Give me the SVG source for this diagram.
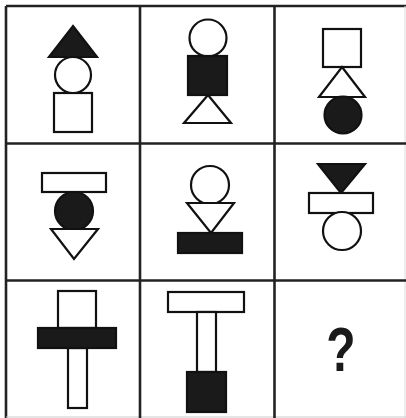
<svg xmlns="http://www.w3.org/2000/svg" width="406" height="418" viewBox="0 0 406 418">
<style>
.o{fill:#fff;stroke:#111;stroke-width:2.2}
.f{fill:#1a1a1a;stroke:#111;stroke-width:2.2}
.g{stroke:#222;stroke-width:2.6;fill:none}
.q{font-family:"Liberation Sans",Arial,sans-serif;font-weight:bold;font-size:48px;fill:#1a1a1a}
</style>
<rect width="406" height="418" fill="#fff"/>
<g id="grid">
<line class="g" x1="6" y1="6" x2="406" y2="6"/>
<line class="g" x1="6" y1="6" x2="6" y2="418"/>
<line x1="405" y1="6" x2="405" y2="418" stroke="#ddd" stroke-width="1"/>
<line x1="6" y1="417" x2="406" y2="417" stroke="#ccc" stroke-width="1"/>
<line class="g" x1="140" y1="6" x2="140" y2="418"/>
<line class="g" x1="274.5" y1="6" x2="274.5" y2="418"/>
<line class="g" x1="6" y1="143.5" x2="406" y2="143.5"/>
<line class="g" x1="6" y1="280.5" x2="406" y2="280.5"/>
</g>
<g id="cell1">
<rect class="o" x="54" y="93" width="38" height="39"/>
<circle class="o" cx="73" cy="75" r="18"/>
<polygon class="f" points="73,26 97,57 49,57"/>
</g>
<g id="cell2">
<circle class="o" cx="208" cy="38" r="18.5"/>
<polygon class="o" points="208,95 231,123 184,123"/>
<rect class="f" x="188" y="56" width="39" height="39"/>
</g>
<g id="cell3">
<rect class="o" x="323" y="29" width="38" height="38"/>
<polygon class="o" points="342,67 365,97 319,97"/>
<circle class="f" cx="343" cy="115" r="18.5"/>
</g>
<g id="cell4">
<rect class="o" x="42" y="173" width="64" height="19"/>
<circle class="f" cx="74" cy="211" r="19"/>
<polygon class="o" points="51,229 98,229 74,259"/>
</g>
<g id="cell5">
<circle class="o" cx="210" cy="185" r="19"/>
<polygon class="o" points="187,203 234,203 211,233"/>
<rect class="f" x="178" y="233" width="64" height="20"/>
</g>
<g id="cell6">
<polygon class="f" points="318,164 365,164 341,193"/>
<rect class="o" x="309" y="193" width="64" height="20"/>
<circle class="o" cx="342" cy="231" r="19"/>
</g>
<g id="cell7">
<rect class="o" x="58" y="291" width="38" height="37"/>
<rect class="o" x="68" y="348" width="19" height="60"/>
<rect class="f" x="38" y="328" width="78" height="20"/>
</g>
<g id="cell8">
<rect class="o" x="168" y="292" width="76" height="20"/>
<rect class="o" x="197" y="312" width="19" height="60"/>
<rect class="f" x="187" y="372" width="39" height="40"/>
</g>
<g id="cell9">
<text class="q" text-anchor="middle" transform="translate(341,371) scale(1,1.3)">?</text>
</g>
</svg>
